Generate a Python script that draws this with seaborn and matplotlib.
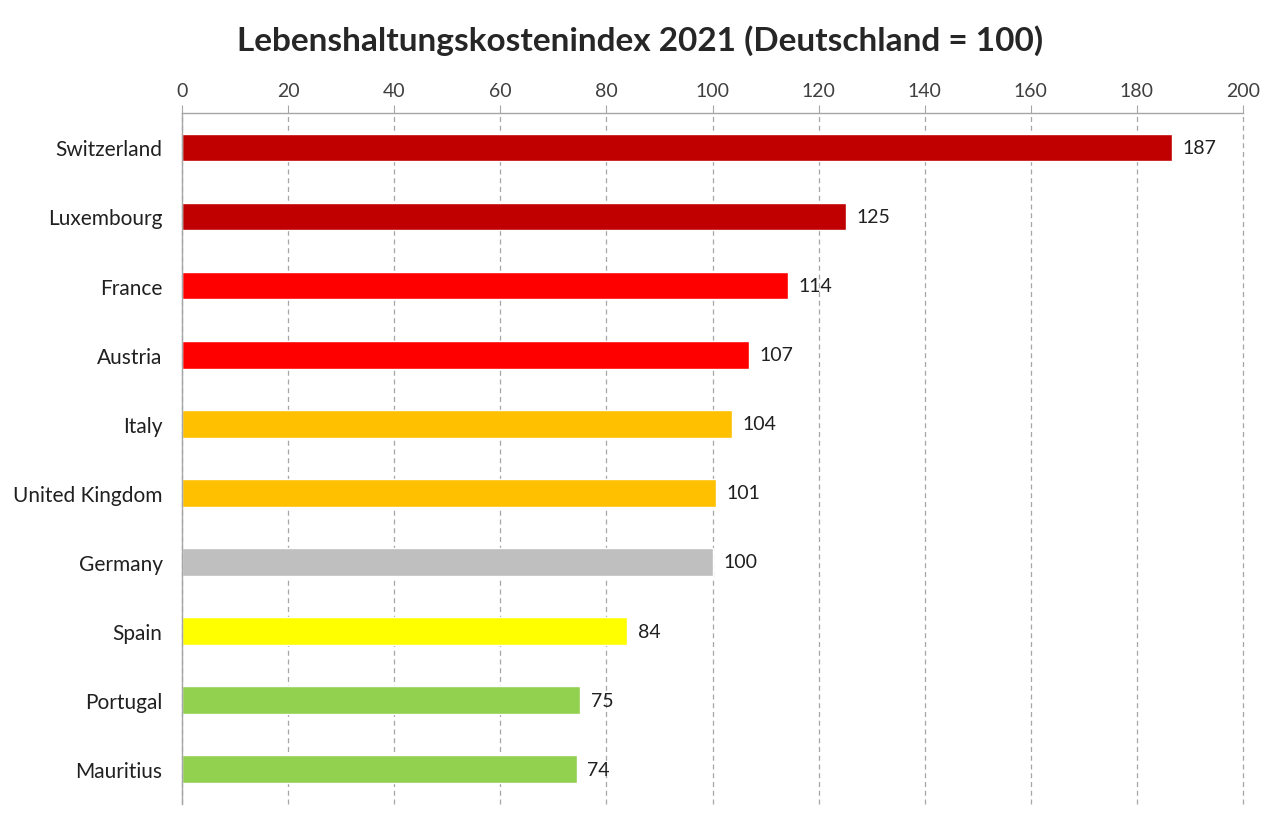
import matplotlib.pyplot as plt
import seaborn as sns
import pandas as pd
import numpy as np

countries = ["Switzerland", "Luxembourg", "France", "Austria", "Italy",
             "United Kingdom", "Germany", "Spain", "Portugal", "Mauritius"]
index_values = [186.6, 125.1, 114.2, 106.9, 103.7, 100.7, 100.0, 83.9, 75.1, 74.4]
bar_colors = ["#C00000", "#C00000", "#FF0000", "#FF0000", "#FFC000",
              "#FFC000", "#BFBFBF", "#FFFF00", "#92D050", "#92D050"]
x_ticks = [0, 20, 40, 60, 80, 100, 120, 140, 160, 180, 200]

sns.set_style("white")
plt.rcParams["font.family"] = ["Lato", "DejaVu Sans"]

df = pd.DataFrame({"country": countries, "value": index_values})

fig = plt.figure(figsize=(12.8, 8.28), dpi=100)
ax = fig.add_axes([0.1422, 0.028, 0.8289, 0.8345])
sns.barplot(data=df, x="value", y="country", hue="country",
            palette=dict(zip(countries, bar_colors)), width=0.4,
            legend=False, ax=ax, saturation=1)

ax.set_xlim(0, 200)
ax.set_ylim(len(countries) - 0.5, -0.5)
ax.set_xticks(x_ticks)
ax.xaxis.tick_top()
ax.tick_params(axis="x", which="major", labelsize=14, length=6, color="#A6A6A6",
               direction="out", pad=4, labelcolor="#404040")
ax.grid(axis="x", linestyle=(0, (4, 3)), color="#A6A6A6", linewidth=0.9)
for gl in ax.get_xgridlines():
    gl.set_clip_on(False)
ax.set_axisbelow(True)

ax.set_yticks(np.arange(-0.5, len(countries), 1.0), minor=True)
ax.tick_params(axis="y", which="minor", length=6, color="#A6A6A6", direction="out")
ax.tick_params(axis="y", which="major", length=0, labelsize=15, pad=14, labelcolor="#202020")

for side in ["right", "bottom"]:
    ax.spines[side].set_visible(False)
for side in ["top", "left"]:
    ax.spines[side].set_color("#A6A6A6")
    ax.spines[side].set_linewidth(1.0)

ax.set_xlabel("")
ax.set_ylabel("")

for i, v in enumerate(index_values):
    ax.text(v + 2, i, f"{v:.0f}", va="center", ha="left", fontsize=14, color="#202020")

fig.suptitle("Lebenshaltungskostenindex 2021 (Deutschland = 100)",
             fontsize=24, fontweight="bold", y=0.97, x=0.5)

plt.savefig("out.png", dpi=100)
